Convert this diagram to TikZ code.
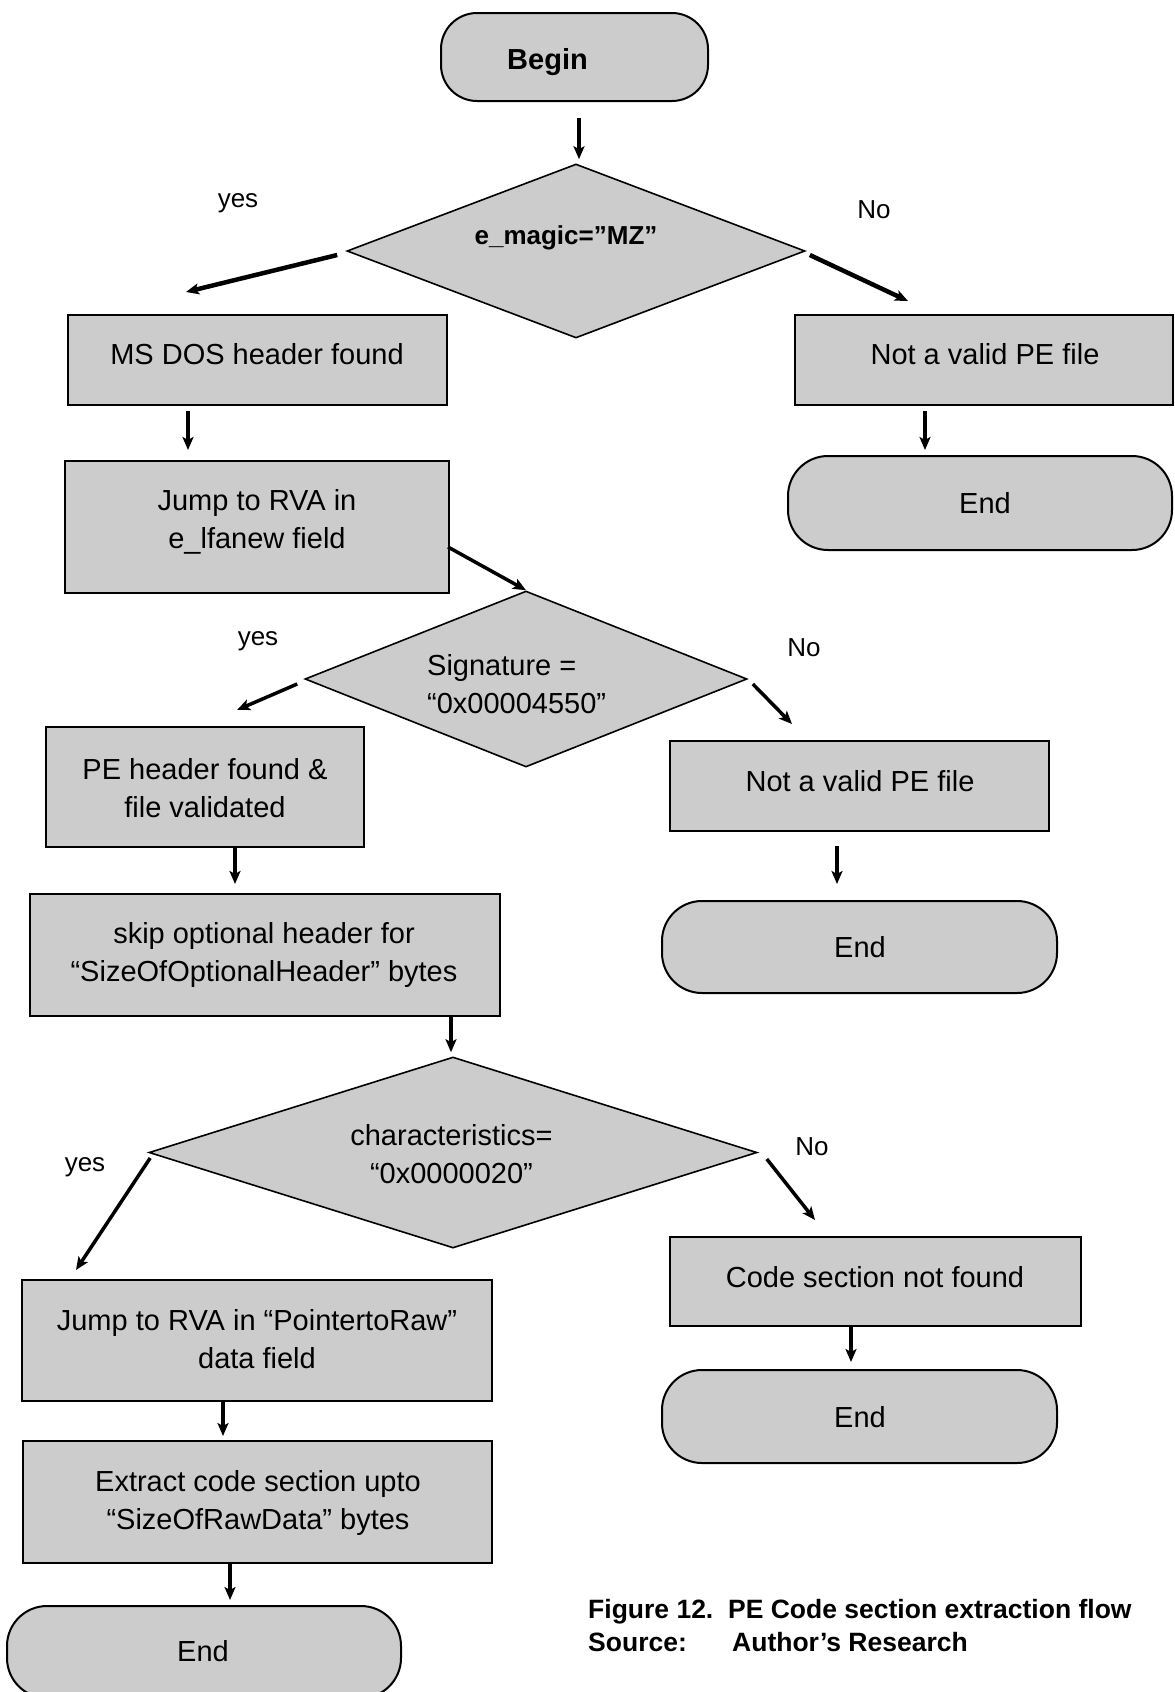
\documentclass[tikz,border=0pt]{standalone}
\usepackage{fontspec}
\setmainfont{Liberation Sans}
\usetikzlibrary{shapes.geometric,arrows.meta,calc}
\definecolor{boxgray}{RGB}{204,204,204}
\tikzset{
  procbox/.style={draw=black,line width=2pt,fill=boxgray,rectangle,inner sep=0pt},
  termbox/.style={draw=black,line width=2pt,fill=boxgray,rectangle,rounded corners=36pt,inner sep=0pt},
  decbox/.style={draw=black,line width=1.6pt,fill=boxgray,diamond,inner sep=0pt},
  txt/.style={inner sep=0pt,align=center,font=\fontsize{29}{38}\selectfont},
  lbl/.style={inner sep=0pt,font=\fontsize{26}{30}\selectfont},
  arr/.style={line width=3.5pt,-{Stealth[length=13pt,width=11pt,inset=3pt]}},
}
\begin{document}
\begin{tikzpicture}[x=1pt,y=-1pt]
\useasboundingbox[fill=white] (0,0) rectangle (1175,1692);
\begin{scope}
\clip (0,0) rectangle (1175,1692);
% shapes
\node[termbox,minimum width=267pt,minimum height=88pt] (begin) at (574.5,57) {};
\node[decbox,minimum width=458pt,minimum height=174pt] (d1) at (576,251) {};
\node[procbox,minimum width=379pt,minimum height=90pt] (ms) at (257.5,360) {};
\node[procbox,minimum width=378pt,minimum height=90pt] (nv1) at (984,360) {};
\node[termbox,minimum width=384pt,minimum height=94pt,rounded corners=40pt] (end1) at (980,503) {};
\node[procbox,minimum width=384pt,minimum height=132pt] (jump) at (257,527) {};
\node[decbox,minimum width=442pt,minimum height=176pt] (d2) at (526,679) {};
\node[procbox,minimum width=318pt,minimum height=120pt] (pe) at (205,787) {};
\node[procbox,minimum width=379pt,minimum height=90pt] (nv2) at (859.5,786) {};
\node[termbox,minimum width=395pt,minimum height=92pt,rounded corners=40pt] (end2) at (859.5,947) {};
\node[procbox,minimum width=470pt,minimum height=122pt] (skip) at (265,955) {};
\node[decbox,minimum width=608pt,minimum height=191pt] (d3) at (453,1152.5) {};
\node[procbox,minimum width=411pt,minimum height=89pt] (code) at (875.5,1281.5) {};
\node[termbox,minimum width=395pt,minimum height=93pt,rounded corners=40pt] (end3) at (859.5,1416.5) {};
\node[procbox,minimum width=470pt,minimum height=121pt] (ptr) at (257,1340.5) {};
\node[procbox,minimum width=469pt,minimum height=122pt] (ext) at (257.5,1502) {};
\node[termbox,minimum width=394pt,minimum height=92pt,rounded corners=40pt] (end4) at (204,1652) {};
\end{scope}
% texts
\node[txt,font=\fontsize{29}{38}\selectfont\bfseries] (begin-t) at (547.5,62) {Begin};
\node[txt,font=\fontsize{26}{32}\selectfont\bfseries] (d1-t) at (566,238) {e\_magic=”MZ”};
\node[txt] (ms-t) at (257,354) {MS DOS header found};
\node[txt] (nv1-t) at (985,354) {Not a valid PE file};
\node[txt] (end1-t) at (985,503) {End};
\node[txt] (jump-t) at (257,522) {Jump to RVA in\\e\_lfanew field};
\node[txt,align=left,anchor=west] (d2-t) at (427,684.5) {Signature =\\“0x00004550”};
\node[txt] (pe-t) at (205,788) {PE header found \&\\file validated};
\node[txt] (nv2-t) at (860,781) {Not a valid PE file};
\node[txt] (end2-t) at (860,947) {End};
\node[txt] (skip-t) at (264,954.5) {skip optional header for\\“SizeOfOptionalHeader” bytes};
\node[txt] (d3-t) at (451.5,1154.5) {characteristics=\\“0x0000020”};
\node[txt] (code-t) at (875,1277) {Code section not found};
\node[txt] (end3-t) at (860,1417) {End};
\node[txt] (ptr-t) at (257,1339) {Jump to RVA in “PointertoRaw”\\data field};
\node[txt] (ext-t) at (258,1503) {Extract code section upto\\“SizeOfRawData” bytes};
\node[txt] (end4-t) at (203,1651) {End};
% yes / no labels
\node[txt,font=\fontsize{26}{30}\selectfont] (y1) at (238,203) {yes};
\node[txt,font=\fontsize{26}{30}\selectfont] (n1) at (874,210) {No};
\node[txt,font=\fontsize{26}{30}\selectfont] (y2) at (258,641) {yes};
\node[txt,font=\fontsize{26}{30}\selectfont] (n2) at (804,648) {No};
\node[txt,font=\fontsize{26}{30}\selectfont] (y3) at (85,1167) {yes};
\node[txt,font=\fontsize{26}{30}\selectfont] (n3) at (812,1147) {No};
% caption
\node[lbl,anchor=west,font=\fontsize{26.5}{30}\selectfont\bfseries] (cap1) at (588,1612) {Figure 12.\ \ PE Code section extraction flow};
\node[lbl,anchor=west,font=\fontsize{26.5}{30}\selectfont\bfseries] (cap2) at (588,1642) {Source:};
\node[lbl,anchor=west,font=\fontsize{26.5}{30}\selectfont\bfseries] (cap3) at (732,1642) {Author’s Research};
% arrows
\draw[arr] ($(begin.south)+(4.5,16)$) -- ($(d1.north)+(3,-4)$);
\draw[arr,line width=4.5pt] ($(d1.west)+(-9,4)$) -- ($(ms.north)+(-71.5,-22)$);
\draw[arr,line width=4.5pt] ($(d1.east)+(4,4)$) -- ($(nv1.north)+(-76,-13)$);
\draw[arr] ($(ms.south)+(-69.5,5)$) -- ($(jump.north)+(-69,-10)$);
\draw[arr] ($(nv1.south)+(-59,5)$) -- ($(end1.north)+(-55,-5)$);
\draw[arr] ($(jump.east)+(-2,20)$) -- (d2.north);
\draw[arr] ($(d2.west)+(-7,5)$) -- ($(pe.north)+(32,-16)$);
\draw[arr] ($(d2.east)+(5,5)$) -- ($(nv2.north)+(-67.5,-16)$);
\draw[arr] ($(pe.south)+(30,0)$) -- ($(skip.north)+(-30,-9)$);
\draw[arr] ($(nv2.south)+(-22.5,14)$) -- ($(end2.north)+(-22.5,-16)$);
\draw[arr] ($(skip.south)+(186,0)$) -- ($(d3.north)+(-2,-4)$);
\draw[arr] ($(d3.west)+(2,5.5)$) -- ($(ptr.north)+(-181,-9)$);
\draw[arr] ($(d3.east)+(9,6.5)$) -- ($(code.north)+(-60.5,-16)$);
\draw[arr] ($(code.south)+(-24.5,0)$) -- ($(end3.north)+(-8.5,-7)$);
\draw[arr] ($(ptr.south)+(-34,0)$) -- ($(ext.north)+(-34.5,-4)$);
\draw[arr] ($(ext.south)+(-27.5,0)$) -- ($(end4.north)+(26,-5)$);
\end{tikzpicture}
\end{document}
